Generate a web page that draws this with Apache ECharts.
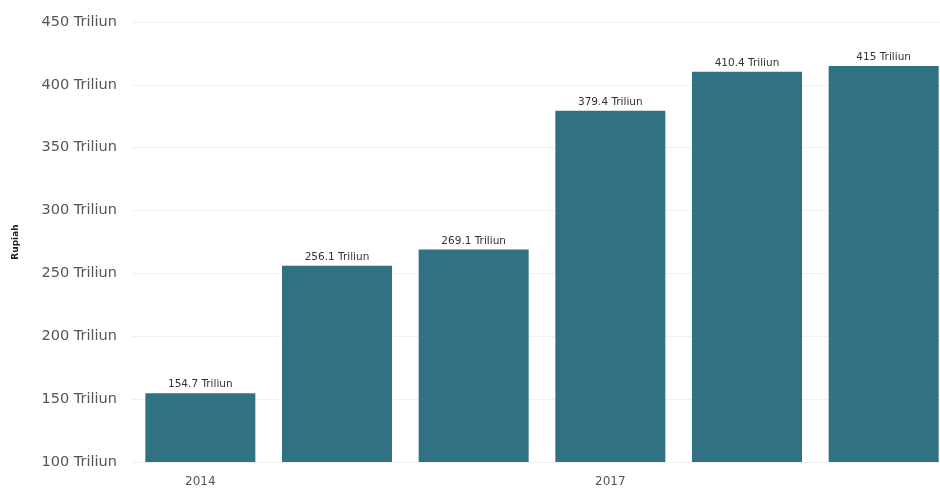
<!DOCTYPE html>
<html>
<head>
<meta charset="utf-8">
<script src="https://cdn.jsdelivr.net/npm/echarts@6/dist/echarts.min.js"></script>
<style>
    html, body { margin: 0; padding: 0; background: #fff; overflow: hidden; }
    /* the plot runs a bit past the right edge in the original */
    #main { width: 952px; height: 493px; }
</style>
</head>
<body>
<div id="main"></div>
<script>
    var years = ['2014', '2015', '2016', '2017', '2018', '2019'];
    var values = [154.7, 256.1, 269.1, 379.4, 410.4, 415];
    var unit = ' Triliun';

    var chart = echarts.init(document.getElementById('main'));
    var option = {
        animation: false,
        grid: {
            left: 132,
            top: 22,
            right: 0,
            height: 440
        },
        xAxis: {
            type: 'category',
            data: years,
            axisLine: { show: false },
            axisTick: { show: false },
            axisLabel: {
                interval: 2,
                color: '#555',
                fontSize: 12,
                margin: 14,
                fontFamily: 'DejaVu Sans'
            }
        },
        yAxis: {
            type: 'value',
            min: 100,
            max: 450,
            interval: 50,
            name: 'Rupiah',
            nameLocation: 'middle',
            nameRotate: 90,
            nameGap: 112,
            nameTextStyle: { fontSize: 9, fontWeight: 'bold', color: '#222', fontFamily: 'DejaVu Sans' },
            axisLine: { show: false },
            axisTick: { show: false },
            axisLabel: {
                color: '#555',
                fontSize: 14.5,
                margin: 15,
                fontFamily: 'DejaVu Sans',
                formatter: function (v) { return v + unit; }
            },
            splitLine: { lineStyle: { color: '#f0f0f0', width: 1 } }
        },
        series: [
            {
                type: 'bar',
                data: values,
                barWidth: 110,
                itemStyle: { color: '#307283' },
                label: {
                    show: true,
                    position: 'top',
                    distance: 3,
                    fontSize: 10.5,
                    color: '#333',
                    fontFamily: 'DejaVu Sans',
                    formatter: function (p) { return p.value + unit; }
                }
            }
        ]
    };
    chart.setOption(option, true);
</script>
</body>
</html>
